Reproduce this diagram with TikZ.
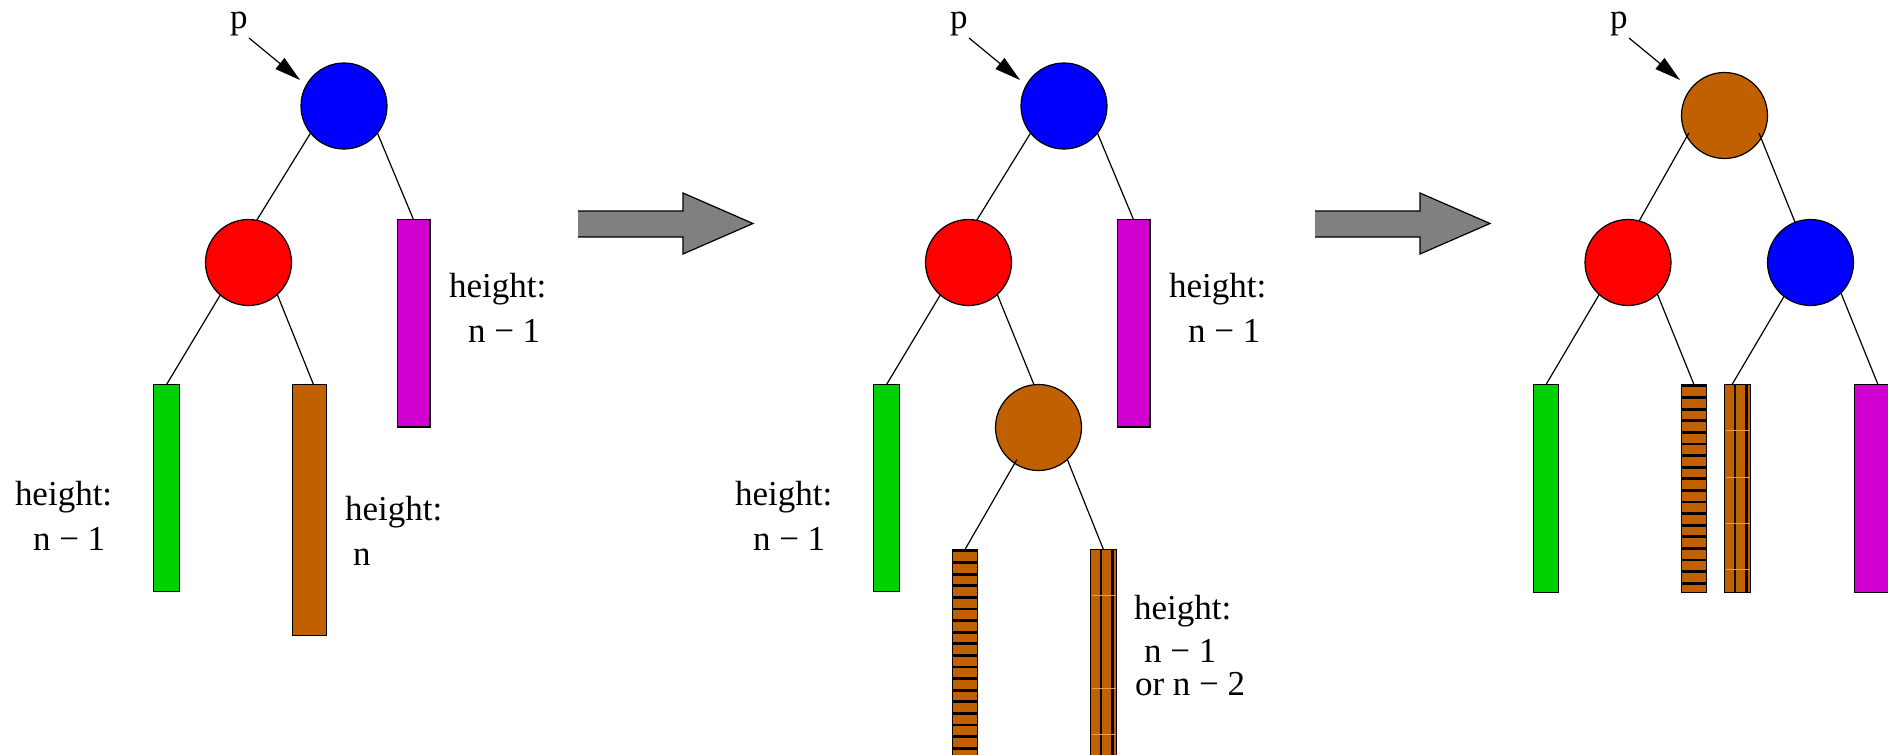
\documentclass[tikz,border=0pt]{standalone}
\usepackage{fontspec}
\setmainfont{Liberation Serif}
\usetikzlibrary{arrows.meta,calc}
\definecolor{fblue}{RGB}{0,0,255}
\definecolor{fred}{RGB}{255,0,0}
\definecolor{fmag}{RGB}{208,0,208}
\definecolor{fgreen}{RGB}{0,208,0}
\definecolor{fbrown}{RGB}{192,96,0}
\definecolor{fgray}{RGB}{128,128,128}
\definecolor{ftan}{RGB}{222,160,90}
\newcommand\mkbar[6]{\node[bar, fill=#6, minimum width={#4-#2-1.2}, minimum height={#5-#3-1.2}] (#1) at ({#2+0.6},{#3+0.6}) {};}
\newcommand\mkarrow[1]{%
  \fill[fgray] (#1,211) -- ({#1+105},211) -- ({#1+105},193) -- ({#1+175},223.5) -- ({#1+105},254) -- ({#1+105},237) -- (#1,237) -- cycle;
  \draw[line width=1.2pt, line join=miter] (#1,211) -- ({#1+105},211) -- ({#1+105},193) -- ({#1+175},223.5) -- ({#1+105},254) -- ({#1+105},237) -- (#1,237);}
\begin{document}
\begin{tikzpicture}[x=1pt,y=-1pt,
  every node/.style={inner sep=0pt, outer sep=0pt},
  circ/.style={circle, draw=black, line width=1.2pt, minimum size=86pt},
  bar/.style={rectangle, draw=black, line width=1.2pt, anchor=north west},
  edge/.style={draw=black, line width=1.2pt},
  lbl/.style={anchor=base west, font=\fontsize{35}{42}\selectfont},
  parrow/.style={draw=black, line width=1.2pt, -{Triangle[length=26pt,width=14pt]}},
  hstripes/.style={path picture={\foreach \k in {0,...,20} \fill[black] ([yshift={-\k*11.6pt}]path picture bounding box.north west) rectangle ([yshift={-\k*11.6pt-2.7pt}]path picture bounding box.north east);}},
  vstripes/.style={path picture={\foreach \o in {10.6,22} \fill[black] ([xshift={\o pt-1.15pt}]path picture bounding box.north west) rectangle ([xshift={\o pt+1.15pt}]path picture bounding box.south west);}},
  faint/.style={draw=ftan, line width=0.8pt}]
\useasboundingbox (0,0) rectangle (1888,755);
\clip (0,0) rectangle (1888,755);

% ---------------- panel 1
\node[lbl] (p1) at (230,28) {p};
\coordinate (p1s) at (249,38);
\coordinate (p1e) at (300,80);
\draw[parrow] (p1s) -- (p1e);
\node[circ, fill=fblue] (blue1) at (344,106) {};
\node[circ, fill=fred] (red1) at (248.5,262.5) {};
\mkbar{mag1}{396.5}{219}{430.5}{427.5}{fmag}
\mkbar{green1}{153}{384}{180}{592}{fgreen}
\mkbar{brown1}{292}{384}{327}{636}{fbrown}
\draw[edge] (blue1.-141) -- (red1.79);
\draw[edge] (blue1.-39) -- (mag1.north);
\draw[edge] (red1.-131) -- (green1.north);
\draw[edge] (red1.-48) -- ([xshift=4pt]brown1.north);
\node[lbl] (lh1) at (15,505) {height:};
\node[lbl] (ln1) at (33,550) {n − 1};
\node[lbl] (mh1) at (449,297) {height:};
\node[lbl] (mn1) at (468,342) {n − 1};
\node[lbl] (bh1) at (345,520) {height:};
\node[lbl] (bn1) at (353,565) {n};

\mkarrow{578}

% ---------------- panel 2
\node[lbl] (p2) at (950,28) {p};
\coordinate (p2s) at (969,38);
\coordinate (p2e) at (1020,80);
\draw[parrow] (p2s) -- (p2e);
\node[circ, fill=fblue] (blue2) at (1064,106) {};
\node[circ, fill=fred] (red2) at (968.5,262.5) {};
\node[circ, fill=fbrown] (brc2) at (1038.5,427.5) {};
\mkbar{mag2}{1116.5}{219}{1150.5}{427.5}{fmag}
\mkbar{green2}{873}{384}{900}{592}{fgreen}
\node[bar, fill=fbrown, hstripes, minimum width=25.4, minimum height=240] (hat2) at (952.2,549.6) {};
\node[bar, fill=fbrown, vstripes, minimum width=25.8, minimum height=240] (str2) at (1090.6,549.6) {};
\foreach \yy in {595,688,734} \draw[faint] (1091.5,\yy) -- (1116,\yy);
\draw[edge] (blue2.-141) -- (red2.79);
\draw[edge] (blue2.-39) -- (mag2.north);
\draw[edge] (red2.-131) -- (green2.north);
\draw[edge] (red2.-48) -- (brc2.96);
\draw[edge] ($(brc2.center)!0.9!(brc2.-124)$) -- (hat2.north);
\draw[edge] (brc2.-48) -- (str2.north);
\node[lbl] (lh2) at (735,505) {height:};
\node[lbl] (ln2) at (753,550) {n − 1};
\node[lbl] (mh2) at (1169,297) {height:};
\node[lbl] (mn2) at (1188,342) {n − 1};
\node[lbl] (sh2) at (1134,619) {height:};
\node[lbl] (sn2) at (1144,662) {n − 1};
\node[lbl] (so2) at (1135,695) {or n − 2};

\mkarrow{1315}

% ---------------- panel 3
\node[lbl] (p3) at (1610,28) {p};
\coordinate (p3s) at (1629,38);
\coordinate (p3e) at (1680,80);
\draw[parrow] (p3s) -- (p3e);
\node[circ, fill=fbrown] (brc3) at (1724.5,115.5) {};
\node[circ, fill=fred] (red3) at (1628,262.5) {};
\node[circ, fill=fblue] (blue3) at (1810.5,262.5) {};
\mkbar{green3}{1533}{384}{1559}{593}{fgreen}
\node[bar, fill=fbrown, hstripes, minimum width=24.8, minimum height=207.8] (hat3) at (1681.6,384.6) {};
\node[bar, fill=fbrown, vstripes, minimum width=25.8, minimum height=207.8] (str3) at (1724.6,384.6) {};
\foreach \yy in {430,477,523,569} \draw[faint] (1725.5,\yy) -- (1750,\yy);
\mkbar{mag3}{1854}{384}{1902}{593}{fmag}
\draw[edge] ($(brc3.center)!0.92!(brc3.206)$) -- (red3.75);
\draw[edge] ($(brc3.center)!0.9!(brc3.-27)$) -- (blue3.111);
\draw[edge] (red3.-132) -- (green3.north);
\draw[edge] (red3.-47) -- (hat3.north);
\draw[edge] (blue3.-128) -- ([xshift=-5.5pt]str3.north);
\draw[edge] (blue3.-45) -- (mag3.north);
\end{tikzpicture}
\end{document}
